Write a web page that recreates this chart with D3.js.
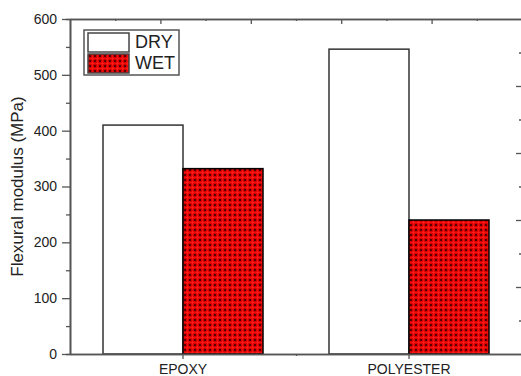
<html>
    <head>
        <script src="https://cdn.jsdelivr.net/npm/d3@7/dist/d3.min.js"></script>
        <style>
            body { margin: 0; background: #fff; }
            text { font-family: "Liberation Sans", Arial, sans-serif; fill: #222; }
        </style>
    </head>
    <body>
        <script>
            var categories = ["EPOXY", "POLYESTER"];
            var series = ["DRY", "WET"];
            var dryValues = [410, 546];
            var wetValues = [332, 240];
            var yTicks = [0, 100, 200, 300, 400, 500, 600];
            var yMinorTicks = [50, 150, 250, 350, 450, 550];

            var width = 521, height = 376;
            var plot = {left: 70, right: 522, top: 19, bottom: 354};
            var axisColor = "#555";

            var svg = d3.select("body").append("svg")
                .attr("width", width)
                .attr("height", height);

            // cross-hatch fill for the wet bars
            var pat = svg.append("defs").append("pattern")
                .attr("id", "hatch")
                .attr("patternUnits", "userSpaceOnUse")
                .attr("width", 5).attr("height", 5);
            pat.append("rect").attr("width", 5).attr("height", 5).attr("fill", "#d80000");
            pat.append("path").attr("d", "M2.5 0.5 V4.5 M0.5 2.5 H4.5")
                .attr("stroke", "#ff1a1a").attr("stroke-width", 1.2);
            pat.append("path").attr("d", "M0 0 h1 v1 h-1z M4 0 h1 v1 h-1z M0 4 h1 v1 h-1z M4 4 h1 v1 h-1z")
                .attr("fill", "#5a0000");

            var x0 = d3.scaleBand()
                .domain(categories)
                .range([plot.left, plot.right]);

            var half = 80;
            var x1 = d3.scaleBand()
                .domain(series)
                .range([x0.bandwidth() / 2 - half, x0.bandwidth() / 2 + half]);

            var y = d3.scaleLinear()
                .domain([0, 600])
                .range([plot.bottom, plot.top]);

            var rows = categories.map(function (c, i) {
                return {category: c, values: [
                    {key: "DRY", value: dryValues[i]},
                    {key: "WET", value: wetValues[i]}
                ]};
            });

            var groups = svg.append("g").selectAll("g")
                .data(rows)
                .enter().append("g")
                    .attr("transform", function (d) { return "translate(" + x0(d.category) + ",0)"; });

            groups.selectAll("rect")
                .data(function (d) { return d.values; })
                .enter().append("rect")
                    .attr("x", function (d) { return x1(d.key); })
                    .attr("y", function (d) { return y(d.value); })
                    .attr("width", x1.bandwidth())
                    .attr("height", function (d) { return y(0) - y(d.value); })
                    .attr("fill", function (d) { return d.key == "DRY" ? "#fff" : "url(#hatch)"; })
                    .attr("stroke", function (d) { return d.key == "DRY" ? "#333" : "#000"; })
                    .attr("stroke-width", 1.5);

            function styleAxis(g) {
                g.selectAll(".domain").attr("stroke", axisColor).attr("stroke-width", 1.6);
                g.selectAll(".tick line").attr("stroke", axisColor).attr("stroke-width", 1.3);
                g.selectAll(".tick text")
                    .attr("fill", "#222")
                    .style("font-family", '"Liberation Sans", Arial, sans-serif');
            }

            // left axis
            svg.append("g")
                .attr("transform", "translate(" + plot.left + ",0)")
                .call(d3.axisLeft(y).tickValues(yMinorTicks).tickSize(4).tickFormat(""))
                .call(styleAxis);
            svg.append("g")
                .attr("transform", "translate(" + plot.left + ",0)")
                .call(d3.axisLeft(y).tickValues(yTicks).tickSize(8).tickPadding(5).tickSizeOuter(0))
                .call(styleAxis)
                .selectAll(".tick text").style("font-size", "14px");

            // bottom axis
            var xEdge = d3.scaleLinear().domain([0, 1]).range([plot.left, plot.right]);
            svg.append("g")
                .attr("transform", "translate(0," + plot.bottom + ")")
                .call(d3.axisBottom(xEdge).tickValues([0.5]).tickSize(2).tickFormat("").tickSizeOuter(0))
                .call(styleAxis);
            svg.append("g")
                .attr("transform", "translate(0," + plot.bottom + ")")
                .call(d3.axisBottom(x0).tickSize(5).tickPadding(5).tickSizeOuter(0))
                .call(styleAxis)
                .selectAll(".tick text").style("font-size", "14px");

            // top mirror axis (ticks inward)
            var xTop = d3.scaleLinear().domain([0, 5]).range([plot.left, plot.right]);
            svg.append("g")
                .attr("transform", "translate(0," + plot.top + ")")
                .call(d3.axisBottom(xTop).tickValues([0.5, 1.5, 2.5, 3.5, 4.5]).tickSize(2).tickFormat("").tickSizeOuter(0))
                .call(styleAxis);
            svg.append("g")
                .attr("transform", "translate(0," + plot.top + ")")
                .call(d3.axisBottom(xTop).tickValues([1, 2, 3, 4]).tickSize(5).tickFormat("").tickSizeOuter(0))
                .call(styleAxis);

            // right mirror axis (ticks inward)
            var yRight = d3.scaleLinear().domain([0, 5]).range([plot.bottom, plot.top]);
            svg.append("g")
                .attr("transform", "translate(" + plot.right + ",0)")
                .call(d3.axisLeft(yRight).tickValues([0.5, 1.5, 2.5, 3.5, 4.5]).tickSize(3).tickFormat("").tickSizeOuter(0))
                .call(styleAxis);
            svg.append("g")
                .attr("transform", "translate(" + plot.right + ",0)")
                .call(d3.axisLeft(yRight).tickValues([1, 2, 3, 4]).tickSize(6).tickFormat("").tickSizeOuter(0))
                .call(styleAxis);

            // y axis title
            svg.append("text")
                .attr("transform", "translate(23," + ((plot.top + plot.bottom) / 2) + ") rotate(-90)")
                .attr("text-anchor", "middle")
                .style("font-size", "17px")
                .text("Flexural modulus (MPa)");

            // legend
            var legend = svg.append("g");
            legend.append("rect")
                .attr("x", 84).attr("y", 30).attr("width", 95).attr("height", 45)
                .attr("fill", "#fff").attr("stroke", axisColor).attr("stroke-width", 1.5);
            var items = legend.selectAll("g.item")
                .data(series)
                .enter().append("g").attr("class", "item")
                    .attr("transform", function (d, i) { return "translate(0," + (i * 21) + ")"; });
            items.append("rect")
                .attr("x", 88).attr("y", 33).attr("width", 41).attr("height", 19)
                .attr("fill", function (d) { return d == "DRY" ? "#fff" : "url(#hatch)"; })
                .attr("stroke", "#444").attr("stroke-width", 1.5);
            items.append("text")
                .attr("x", 135).attr("y", 48)
                .style("font-size", "18px")
                .text(function (d) { return d; });
        </script>
    </body>
</html>
